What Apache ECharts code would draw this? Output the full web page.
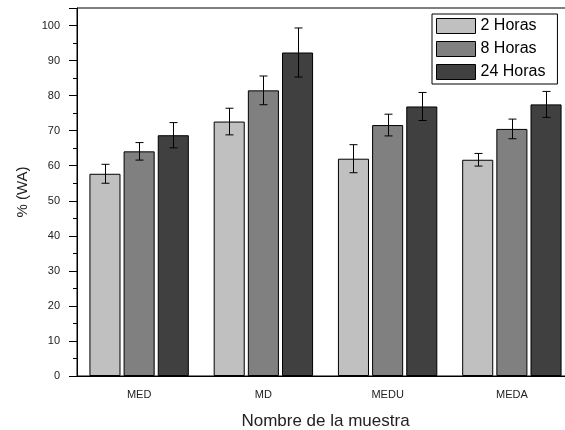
<!DOCTYPE html>
<html><head><meta charset="utf-8">
<script src="https://cdn.jsdelivr.net/npm/echarts@6/dist/echarts.min.js"></script>
<style>html,body{margin:0;padding:0;background:#fff}#c{width:565px;height:430px}</style>
</head><body><div id="c"></div>
<script>
const categories = ['MED', 'MD', 'MEDU', 'MEDA'];
const seriesNames = ['2 Horas', '8 Horas', '24 Horas'];
const values2h = [57.7, 72.6, 62.0, 61.7];
const values8h = [64.1, 81.5, 71.6, 70.5];
const values24h = [68.7, 92.3, 76.9, 77.5];
const err2h = [2.7, 3.8, 4.0, 1.8];
const err8h = [2.5, 4.1, 3.1, 2.8];
const err24h = [3.6, 7.0, 4.0, 3.7];
const yTicks = [0, 10, 20, 30, 40, 50, 60, 70, 80, 90, 100];

const colors = ['#c0c0c0', '#808080', '#404040'];
const allValues = [values2h, values8h, values24h];
const allErr = [err2h, err8h, err24h];
const catGap = 0.2, barGap = 0.1, nSeries = 3;
const font = '"Liberation Sans", Arial, sans-serif';

const series = [];
allValues.forEach((vals, i) => {
  series.push({
    name: seriesNames[i], type: 'bar', data: vals,
    barCategoryGap: '20%', barGap: '10%',
    itemStyle: { color: colors[i], borderColor: '#000', borderWidth: 1 },
    emphasis: { disabled: true }
  });
});
allValues.forEach((vals, i) => {
  series.push({
    type: 'custom',
    data: vals.map((v, j) => [j, v - allErr[i][j], v + allErr[i][j]]),
    encode: { x: 0, y: [1, 2] },
    z: 10,
    renderItem: function (params, api) {
      const band = api.size([1, 0])[0];
      const group = band * (1 - catGap);
      const bw = group / (nSeries + (nSeries - 1) * barGap);
      const off = -group / 2 + bw / 2 + i * bw * (1 + barGap);
      const lo = api.coord([api.value(0), api.value(1)]);
      const hi = api.coord([api.value(0), api.value(2)]);
      const x = Math.round(lo[0] + off) + 0.5;
      const cw = 4;
      const st = { stroke: '#000', lineWidth: 1 };
      return { type: 'group', children: [
        { type: 'line', shape: { x1: x, y1: hi[1], x2: x, y2: lo[1] }, style: st },
        { type: 'line', shape: { x1: x - cw, y1: hi[1], x2: x + cw, y2: hi[1] }, style: st },
        { type: 'line', shape: { x1: x - cw, y1: lo[1], x2: x + cw, y2: lo[1] }, style: st }
      ]};
    }
  });
});

const chart = echarts.init(document.getElementById('c'));
chart.setOption({
  animation: false,
  backgroundColor: '#fff',
  grid: { left: 77, top: 8, right: -9, bottom: 54, show: true, borderColor: '#000', borderWidth: 1,
    containLabel: false, outerBoundsMode: 'none' },
  legend: {
    data: seriesNames, orient: 'vertical', left: 432, top: 14,
    borderColor: '#000', borderWidth: 1, padding: [4, 12, 4, 4],
    icon: 'rect', itemWidth: 39, itemHeight: 15, itemGap: 7,
    itemStyle: { borderColor: '#000', borderWidth: 1 },
    textStyle: { fontSize: 16, lineHeight: 15, fontFamily: font, color: '#000' },
    selectedMode: false
  },
  xAxis: [{
    type: 'category', data: categories, position: 'bottom',
    name: 'Nombre de la muestra', nameLocation: 'middle', nameGap: 37,
    nameTextStyle: { fontSize: 17, fontFamily: font, color: '#222' },
    axisLine: { lineStyle: { color: '#000' } },
    axisTick: { alignWithLabel: true, length: 8, lineStyle: { color: '#000' } },
    axisLabel: { fontSize: 11, fontFamily: font, color: '#222', margin: 13 }
  }, {
    type: 'category', data: categories, position: 'bottom', gridIndex: 0,
    axisLine: { show: false },
    axisTick: { length: 4, lineStyle: { color: '#000' } },
    axisLabel: { show: false }
  }],
  yAxis: {
    type: 'value', min: 0, max: 105, interval: 10,
    name: '% (WA)', nameLocation: 'middle', nameGap: 47, nameRotate: 90,
    nameTextStyle: { fontSize: 15, fontFamily: font, color: '#222' },
    axisLine: { show: true, lineStyle: { color: '#000' } },
    axisTick: { show: true, length: 8, lineStyle: { color: '#000' } },
    minorTick: { show: true, splitNumber: 2, length: 4, lineStyle: { color: '#000' } },
    splitLine: { show: false },
    axisLabel: { fontSize: 11, fontFamily: font, color: '#222', margin: 17,
      formatter: v => yTicks.includes(v) ? String(v) : '' }
  },
  series: series
});
</script></body></html>
